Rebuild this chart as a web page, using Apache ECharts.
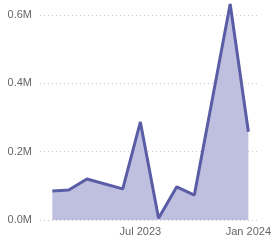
<!DOCTYPE html>
<html>
<head>
<meta charset="utf-8">
<script src="https://cdn.jsdelivr.net/npm/echarts@6/dist/echarts.min.js"></script>
<style>
  html, body { margin: 0; padding: 0; background: #fff; }
  #chart { width: 274px; height: 240px; }
</style>
</head>
<body>
<div id="chart"></div>
<script>
// monthly points (some months missing in the source)
var dates = ['2023-02-01', '2023-03-01', '2023-04-01', '2023-06-01', '2023-07-01',
             '2023-08-01', '2023-09-01', '2023-10-01', '2023-12-01', '2024-01-01'];
var values = [85000, 88000, 120000, 91000, 287000, 5000, 97000, 73000, 632000, 258000];
var xLabelDates = ['2023-07-01', '2024-01-01'];
var monthNames = ['Jan', 'Feb', 'Mar', 'Apr', 'May', 'Jun', 'Jul', 'Aug', 'Sep', 'Oct', 'Nov', 'Dec'];

function ts(s) {
    var p = s.split('-');
    return Date.UTC(+p[0], +p[1] - 1, +p[2]);
}

var chart = echarts.init(document.getElementById('chart'));

chart.setOption({
    animation: false,
    grid: { left: 40, right: 12, top: 3, bottom: 20 },
    xAxis: {
        // time values on a numeric axis so the two labels can be placed exactly
        type: 'value',
        min: ts('2023-01-11'),
        max: ts('2024-01-16'),
        axisLine: { show: false },
        axisTick: { show: false },
        splitLine: { show: false },
        axisLabel: {
            customValues: xLabelDates.map(ts),
            color: '#666',
            fontSize: 11,
            fontFamily: 'Liberation Sans',
            margin: 6,
            formatter: function (v) {
                var d = new Date(v);
                return monthNames[d.getUTCMonth()] + ' ' + d.getUTCFullYear();
            }
        }
    },
    yAxis: {
        type: 'value',
        min: 0,
        max: 635000,
        interval: 200000,
        axisLine: { show: false },
        axisTick: { show: false },
        splitLine: {
            showMaxLine: false,
            lineStyle: { color: '#c8c8c8', type: [1, 3], width: 1 }
        },
        axisLabel: {
            showMaxLabel: false,
            color: '#666',
            fontSize: 11,
            fontFamily: 'Liberation Sans',
            margin: 8,
            formatter: function (v) {
                return (v / 1e6).toFixed(1) + 'M';
            }
        }
    },
    series: [{
        type: 'line',
        data: dates.map(function (d, i) { return [ts(d), values[i]]; }),
        symbol: 'none',
        lineStyle: { color: '#5a5da6', width: 3 },
        areaStyle: { color: '#bfc0e0', opacity: 1 }
    }]
});
</script>
</body>
</html>
